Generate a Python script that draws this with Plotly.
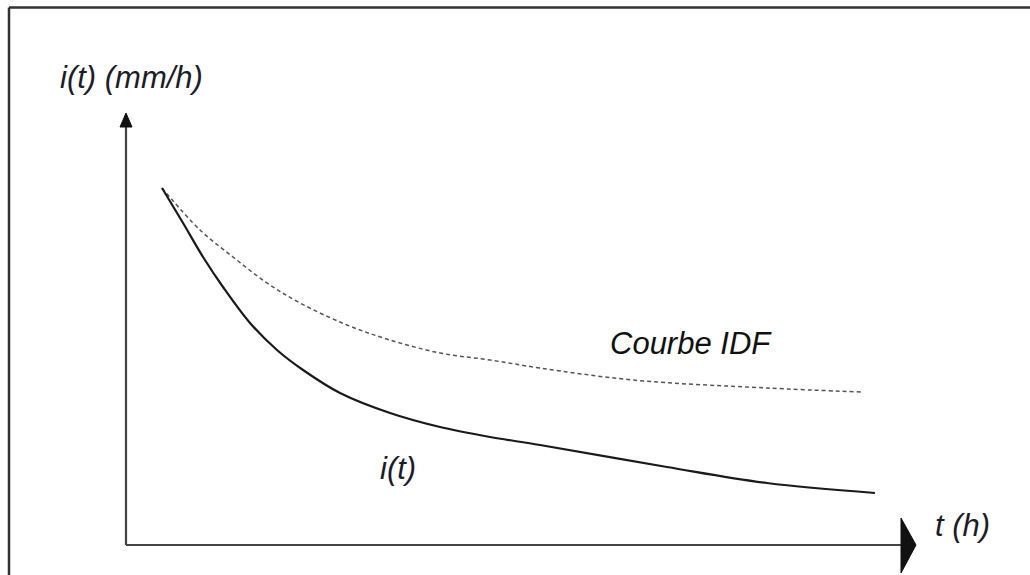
import plotly.graph_objects as go

# Time axis (h) and intensities (mm/h), arbitrary units
t_pluie = [0.456, 0.722, 0.975, 1.228, 1.570, 1.911, 2.241, 2.709, 3.342, 3.975,
           4.608, 5.241, 6.848, 8.114, 9.481]
i_pluie = [8.264, 7.454, 6.667, 5.972, 5.139, 4.514, 4.051, 3.519, 3.056, 2.731,
           2.500, 2.315, 1.806, 1.435, 1.204]

t_idf = [0.456, 0.937, 1.354, 1.785, 2.203, 2.797, 3.342, 3.975, 4.608, 5.241,
         6.418, 8.114, 9.316]
i_idf = [8.264, 7.292, 6.667, 6.065, 5.602, 5.093, 4.745, 4.444, 4.282, 4.097,
         3.819, 3.634, 3.542]

W, H = 1030, 575
L, R, T, B = 126, 916, 113, 545  # plot area in pixels
X_MAX, Y_MAX = 10.0, 10.0


def px(x):
    return (x - L) / (R - L)


def py(y):
    return (B - y) / (B - T)


FONT = "Liberation Sans Narrow, Arial Narrow, Liberation Sans, Arial"
INK = "#333333"

fig = go.Figure()
fig.add_trace(go.Scatter(x=t_idf, y=i_idf, mode="lines", line_shape="spline",
                         line=dict(color="#555555", width=1.5, dash="4px,3px"),
                         hoverinfo="skip"))
fig.add_trace(go.Scatter(x=t_pluie, y=i_pluie, mode="lines", line_shape="spline",
                         line=dict(color="#1a1a1a", width=2.2),
                         hoverinfo="skip"))

shapes = [
    # outer frame (left and top edges)
    dict(type="line", xref="paper", yref="paper", x0=px(9), y0=py(7.5), x1=px(9), y1=py(H + 5),
         line=dict(color=INK, width=2.5)),
    dict(type="line", xref="paper", yref="paper", x0=px(9), y0=py(7.5), x1=px(W + 5), y1=py(7.5),
         line=dict(color=INK, width=2.5)),
    # axes
    dict(type="line", xref="paper", yref="paper", x0=0, y0=0, x1=px(903), y1=0,
         line=dict(color="#444444", width=2.2)),
    dict(type="line", xref="paper", yref="paper", x0=0, y0=0, x1=0, y1=py(124),
         line=dict(color="#444444", width=2.2)),
    # arrowheads
    dict(type="path", xref="paper", yref="paper",
         path=f"M {px(901)} {py(518)} L {px(916)} {py(545)} L {px(901)} {py(573)} Z",
         fillcolor="#111111", line=dict(color="#111111", width=1)),
    dict(type="path", xref="paper", yref="paper",
         path=f"M {px(120)} {py(127)} L {px(126)} {py(113)} L {px(132)} {py(127)} Z",
         fillcolor="#111111", line=dict(color="#111111", width=1)),
]

annotations = [
    dict(text="i(t) (mm/h)", xref="paper", yref="paper", x=px(131), y=py(78),
         showarrow=False, xanchor="center", yanchor="middle",
         font=dict(family=FONT, size=31, color="#1c1c2a", style="italic")),
    dict(text="t (h)", xref="paper", yref="paper", x=px(962), y=py(525),
         showarrow=False, xanchor="center", yanchor="middle",
         font=dict(family=FONT, size=31, color="#1c1c2a", style="italic")),
    dict(text="Courbe IDF", xref="paper", yref="paper", x=px(691), y=py(343),
         showarrow=False, xanchor="center", yanchor="middle",
         font=dict(family=FONT, size=31, color="#111111", style="italic")),
    dict(text="i(t)", xref="paper", yref="paper", x=px(398), y=py(468),
         showarrow=False, xanchor="center", yanchor="middle",
         font=dict(family=FONT, size=31, color="#1c1c2a", style="italic")),
]

fig.update_layout(
    width=W, height=H,
    margin=dict(l=L, r=W - R, t=T, b=H - B, pad=0),
    paper_bgcolor="white", plot_bgcolor="white",
    showlegend=False,
    xaxis=dict(range=[0, X_MAX], visible=False, fixedrange=True),
    yaxis=dict(range=[0, Y_MAX], visible=False, fixedrange=True),
    shapes=shapes,
    annotations=annotations,
)

fig.write_html("out.html", config=dict(displayModeBar=False))
